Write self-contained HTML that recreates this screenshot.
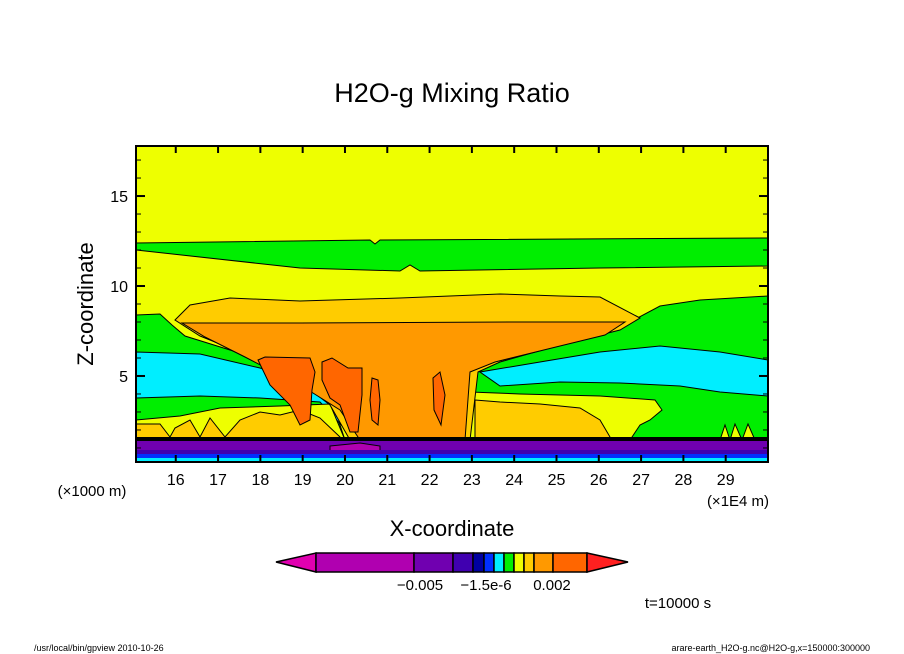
<!DOCTYPE html>
<html><head><meta charset="utf-8"><style>
body{margin:0;background:#fff;}
svg{display:block;font-family:"Liberation Sans",sans-serif;}
</style></head><body>
<svg width="904" height="654" viewBox="0 0 904 654">
<text x="452" y="102" font-size="27" text-anchor="middle">H2O-g Mixing Ratio</text>
<defs><clipPath id="pc"><rect x="136" y="146" width="632" height="316"/></clipPath></defs>
<g clip-path="url(#pc)" stroke="#000" stroke-width="1">
<rect x="136" y="146" width="632" height="316" fill="#eeff00" stroke="none"/>
<path fill="#00ee00" d="M136,243 L370,240 L375,244 L380,240 L768,238 L768,266 L600,268 L420,271 L410,265 L400,271 L300,268 L136,250 Z"/>
<path fill="#00ee00" d="M136,315 L160,314 L172,325 L185,336 L230,350 L300,372 L330,395 L345,440 L470,440 L472,370 L500,360 L560,345 L630,322 L660,306 L700,300 L768,296 L768,440 L136,440 Z"/>
<path fill="#00eeff" d="M136,352 L200,354 L260,368 L310,385 L340,405 L346,430 L320,402 L260,398 L200,396 L136,398 Z"/>
<path fill="#00eeff" d="M480,372 L540,362 L600,352 L660,346 L720,352 L768,360 L768,396 L720,392 L680,386 L620,383 L560,382 L500,386 Z"/>
<path fill="#eeff00" d="M136,420 L180,416 L220,408 L280,406 L330,404 L345,440 L136,440 Z"/>
<path fill="#eeff00" d="M470,392 L520,394 L560,395 L600,396 L655,400 L662,410 L650,420 L640,425 L630,440 L470,440 Z"/>
<path fill="#eeff00" d="M720,440 L725,425 L730,440 L735,424 L742,440 L748,424 L755,440 Z"/>
<path fill="#ffcc00" d="M136,424 L160,424 L170,437 L175,428 L190,420 L200,437 L210,418 L225,437 L240,420 L260,412 L280,415 L300,410 L320,418 L340,437 L340,440 L136,440 Z"/>
<path fill="#ffcc00" d="M475,400 L500,402 L540,404 L580,408 L600,420 L610,437 L612,440 L475,440 Z"/>
<path fill="#ffcc00" d="M175,320 L190,305 L230,298 L300,301 L400,298 L500,294 L560,296 L600,297 L640,318 L620,330 L560,345 L500,362 L478,372 L470,440 L350,440 L330,405 L300,382 L250,356 L200,336 Z"/>
<path fill="#ff9900" d="M182,323 L300,323 L520,322 L625,322 L605,335 L560,346 L495,362 L470,372 L465,440 L360,440 L340,410 L305,388 L245,357 L205,337 Z"/>
<path fill="#ff6600" d="M258,360 L265,357 L310,358 L315,372 L312,390 L310,420 L300,425 L290,405 L270,385 Z"/>
<path fill="#ff6600" d="M322,362 L332,358 L348,368 L362,368 L362,395 L358,432 L350,432 L340,405 L330,398 L322,380 Z"/>
<path fill="#ff6600" d="M372,378 L378,380 L380,400 L378,425 L372,420 L370,400 Z"/>
<path fill="#ff6600" d="M433,378 L440,372 L445,395 L441,425 L434,410 Z"/>
<rect x="136" y="440" width="632" height="22" fill="#7000b0"/>
<path fill="#b000b0" d="M330,446 L360,443 L380,446 L380,453 L350,455 L330,452 Z"/>
<rect x="136" y="450" width="632" height="5" fill="#4000b0" stroke="none"/>
<rect x="136" y="454" width="632" height="4" fill="#0030ff" stroke="none"/>
<rect x="136" y="458" width="632" height="4" fill="#00eeff" stroke="none"/>
<rect x="136" y="437" width="632" height="4" fill="#000" stroke="none"/>
</g>
<rect x="136" y="146" width="632" height="316" fill="none" stroke="#000" stroke-width="2"/>
<g id="axes"></g>
<text x="92" y="496" font-size="15" text-anchor="middle">(×1000 m)</text>
<text x="738" y="506" font-size="15" text-anchor="middle">(×1E4 m)</text>
<text x="452" y="536" font-size="22" text-anchor="middle">X-coordinate</text>
<text transform="translate(93,304) rotate(-90)" font-size="22" text-anchor="middle">Z-coordinate</text>
<g id="cbar"></g>
<text x="420" y="590" font-size="15" text-anchor="middle">−0.005</text>
<text x="486" y="590" font-size="15" text-anchor="middle">−1.5e-6</text>
<text x="552" y="590" font-size="15" text-anchor="middle">0.002</text>
<text x="678" y="608" font-size="15" text-anchor="middle">t=10000 s</text>
<text x="34" y="651" font-size="9">/usr/local/bin/gpview  2010-10-26</text>
<text x="870" y="651" font-size="9" text-anchor="end">arare-earth_H2O-g.nc@H2O-g,x=150000:300000</text>
<script>
const xTicks=[16,17,18,19,20,21,22,23,24,25,26,27,28,29];
const yTicks=[5,10,15];
const cbColors=["#b000b0","#7000b0","#4000b0","#0000a0","#0030ff","#00eeff","#00ee00","#eeff00","#ffcc00","#ff9900","#ff6600"];
const cbEdges=[316,414,453,473,484,494,504,514,524,534,553,587];
const NS="http://www.w3.org/2000/svg";
const X0=136,X1=768,XMIN=15.06,XMAX=30;
const YB=462,YT=146,YMIN=0.22,YMAX=17.78;
const sx=v=>X0+(v-XMIN)/(XMAX-XMIN)*(X1-X0);
const sy=v=>YB-(v-YMIN)/(YMAX-YMIN)*(YB-YT);
const ax=document.getElementById('axes');
function mk(t,a,p){const e=document.createElementNS(NS,t);for(const k in a)e.setAttribute(k,a[k]);p.appendChild(e);return e;}
xTicks.forEach(v=>{
 const x=sx(v);
 const l=mk('line',{x1:x,x2:x,y1:YB,y2:YB-7,stroke:'#000','stroke-width':2},ax);
 
 
 const l2=mk('line',{x1:x,x2:x,y1:YT,y2:YT+7,stroke:'#000','stroke-width':2},ax);
 
 
 const t=mk('text',{x:x,y:485,'font-size':16,'text-anchor':'middle'},ax);
 t.textContent=v;
 
 
});
for(let v=1;v<=17;v++){
 const y=sy(v);const major=v%5===0;
 const l=mk('line',{x1:X0,x2:X0+(major?9:5),y1:y,y2:y,stroke:'#000','stroke-width':major?2:1},ax);
 
 
 const r=mk('line',{x1:X1,x2:X1-(major?9:5),y1:y,y2:y,stroke:'#000','stroke-width':major?2:1},ax);
 
 
}
yTicks.forEach(v=>{
 const t=mk('text',{x:128,y:sy(v)+6,'font-size':16,'text-anchor':'end'},ax);
 t.textContent=v;
 
 
});
const cb=document.getElementById('cbar');
const tl=mk('polygon',{points:'276,562 316,553 316,572',fill:'#e000b0',stroke:'#000','stroke-width':1.5},cb);


cbColors.forEach((c,i)=>{
 const r=mk('rect',{x:cbEdges[i],y:553,width:cbEdges[i+1]-cbEdges[i],height:19,fill:c,stroke:'#000','stroke-width':1.5},cb);
 
 
});
const tr=mk('polygon',{points:'587,553 628,562 587,572',fill:'#ff2020',stroke:'#000','stroke-width':1.5},cb);


</script>
</svg>
</body></html>
